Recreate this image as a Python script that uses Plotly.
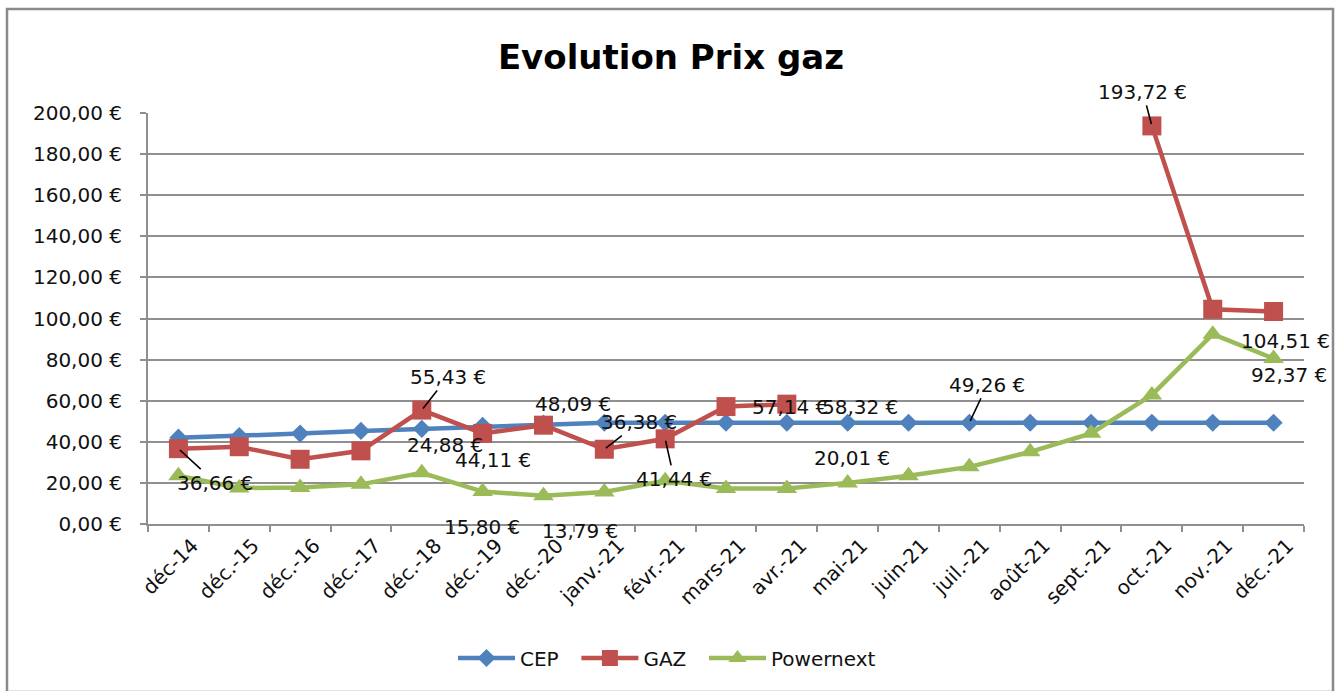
import plotly.graph_objects as go

categories = ["déc-14", "déc.-15", "déc.-16", "déc.-17", "déc.-18", "déc.-19", "déc.-20",
              "janv.-21", "févr.-21", "mars-21", "avr.-21", "mai-21", "juin-21", "juil.-21",
              "août-21", "sept.-21", "oct.-21", "nov.-21", "déc.-21"]

cep = [42.0, 42.8, 44.0, 45.3, 46.3, 47.8, 48.8, 49.26, 49.26, 49.26, 49.26, 49.26,
       49.26, 49.26, 49.26, 49.26, 49.26, 49.26, 49.26]
gaz = [36.66, 37.6, 31.5, 35.6, 55.43, 44.11, 48.09, 36.38, 41.44, 57.14, 58.32,
       None, None, None, None, None, 193.72, 104.51, 103.4]
powernext = [23.5, 17.5, 17.8, 19.3, 24.88, 15.80, 13.79, 15.6, 21.0, 17.3, 17.3, 20.01,
             23.5, 27.8, 35.1, 44.1, 62.8, 92.37, 80.5]

y_tick_values = [0, 20, 40, 60, 80, 100, 120, 140, 160, 180, 200]
y_tick_labels = ["0,00 €", "20,00 €", "40,00 €", "60,00 €", "80,00 €", "100,00 €",
                 "120,00 €", "140,00 €", "160,00 €", "180,00 €", "200,00 €"]

FONT = "DejaVu Sans"
GRID = "#8f8f8f"
PAD = "\u00a0\u00a0"

series = {"CEP": cep, "GAZ": gaz, "Powernext": powernext}

fig = go.Figure()
fig.add_trace(go.Scatter(x=categories, y=cep, name="CEP" + PAD, mode="lines+markers",
                         line=dict(color="#4F81BD", width=4.5),
                         marker=dict(symbol="diamond", size=14, color="#4F81BD")))
fig.add_trace(go.Scatter(x=categories, y=gaz, name="GAZ" + PAD, mode="lines+markers",
                         connectgaps=False,
                         line=dict(color="#C0504D", width=4.5),
                         marker=dict(symbol="square", size=19, color="#C0504D")))
fig.add_trace(go.Scatter(x=categories, y=powernext, name="Powernext", mode="lines+markers",
                         line=dict(color="#9BBB59", width=4.5),
                         marker=dict(symbol="triangle-up", size=18, color="#9BBB59")))

# data labels: (series, category index, x offset px, y offset px, leader line)
label_specs = [
    ("GAZ", 0, 37, 34, True),
    ("GAZ", 4, 26, -33, True),
    ("Powernext", 4, 23, -28, False),
    ("GAZ", 5, 10, 27, False),
    ("Powernext", 5, -1, 35, False),
    ("Powernext", 6, 37, 35, False),
    ("GAZ", 6, 30, -21, False),
    ("GAZ", 7, 35, -27, True),
    ("GAZ", 8, 9, 40, True),
    ("GAZ", 9, 64, 0, False),
    ("GAZ", 10, 73, 3, False),
    ("Powernext", 11, 4, -25, False),
    ("CEP", 13, 18, -38, True),
    ("GAZ", 16, -9, -34, True),
    ("GAZ", 17, 73, 32, False),
    ("Powernext", 17, 76, 41, False),
]

annotations = []
for name, i, dx, dy, arrow in label_specs:
    v = series[name][i]
    txt = f"{v:.2f}".replace(".", ",") + " €"
    if arrow:
        annotations.append(dict(x=categories[i], y=v, xref="x", yref="y", text=txt,
                                showarrow=True, arrowhead=0, arrowwidth=1.6,
                                arrowcolor="#000000", ax=dx, ay=dy, standoff=2,
                                font=dict(family=FONT, size=20, color="#111111")))
    else:
        annotations.append(dict(x=categories[i], y=v, xref="x", yref="y", text=txt,
                                showarrow=False, xshift=dx, yshift=-dy,
                                font=dict(family=FONT, size=20, color="#111111")))

fig.update_layout(
    width=1340, height=691,
    paper_bgcolor="white", plot_bgcolor="white",
    margin=dict(l=148, r=36, t=113, b=167),
    title=dict(text="<b>Evolution Prix gaz</b>", x=0.5007, xref="container",
               y=1 - 57 / 691, yref="container", xanchor="center", yanchor="middle",
               font=dict(family=FONT, size=34, color="#000000")),
    font=dict(family=FONT, size=20, color="#111111"),
    showlegend=True,
    legend=dict(orientation="h", x=(453 - 148) / 1156, xanchor="left",
                y=-0.326, yanchor="middle",
                font=dict(family=FONT, size=20, color="#111111"), itemwidth=57),
    annotations=annotations,
    shapes=[dict(type="rect", xref="paper", yref="paper",
                 x0=(7 - 148) / 1156, x1=(1333 - 148) / 1156,
                 y0=(524 - 692) / 411, y1=(524 - 9) / 411,
                 line=dict(color="#8a8a8a", width=2.5), fillcolor="rgba(0,0,0,0)",
                 layer="below")],
)

fig.update_xaxes(type="category", range=[-0.5, len(categories) - 0.5],
                 tickangle=-45, tickson="boundaries", ticklabelshift=14,
                 ticks="outside", ticklen=6, tickwidth=2, tickcolor=GRID,
                 showline=True, linecolor=GRID, linewidth=2, showgrid=False,
                 tickfont=dict(family=FONT, size=20, color="#111111"))
fig.update_yaxes(range=[0, 200], tickvals=y_tick_values, ticktext=y_tick_labels,
                 ticks="outside", ticklen=6, tickwidth=2, tickcolor=GRID,
                 showline=True, linecolor=GRID, linewidth=2,
                 showgrid=True, gridcolor=GRID, gridwidth=2, zeroline=False,
                 ticklabelstandoff=14,
                 tickfont=dict(family=FONT, size=20, color="#111111"))

fig.write_html("out.html", config={"displayModeBar": False},
               post_script="document.body.style.margin='0';document.body.style.overflow='hidden';")
